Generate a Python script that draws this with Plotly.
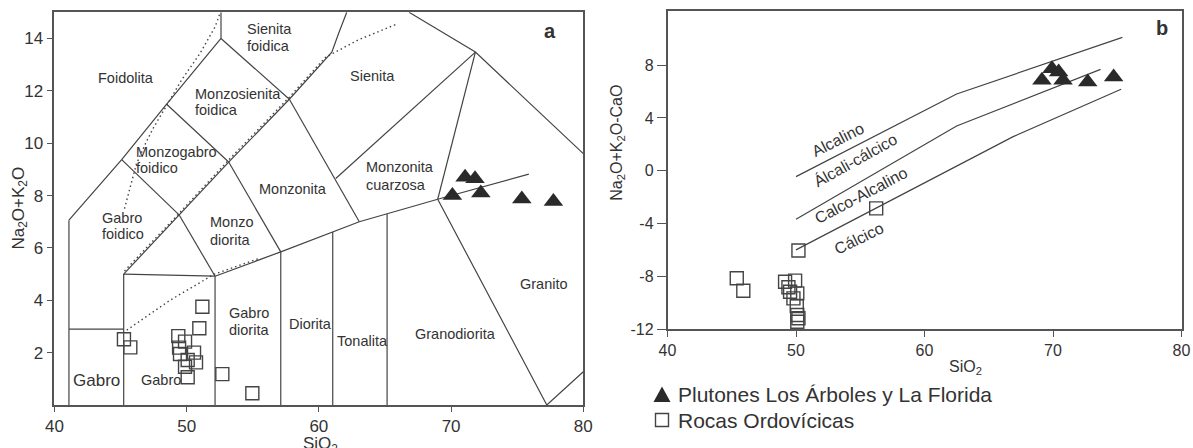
import plotly.graph_objects as go

# ---------------- Panel a: TAS (plutonic) ----------------
plut_a_sio2 = [70.10, 71.06, 71.81, 72.25, 75.35, 77.74]
plut_a_alk = [8.00, 8.70, 8.64, 8.10, 7.87, 7.77]

ord_a_sio2 = [45.26, 45.74, 49.37, 49.88, 49.43, 49.50, 50.56, 50.08, 50.71, 49.88, 50.08, 50.96, 51.19, 52.70, 54.97]
ord_a_alk = [2.51, 2.20, 2.63, 2.42, 2.19, 1.95, 2.00, 1.72, 1.63, 1.46, 1.06, 2.93, 3.75, 1.18, 0.45]

# field boundaries (SiO2, Na2O+K2O)
tas_bounds = [
    ([41.1, 41.1], [0, 7.06]),
    ([41.1, 45.09, 48.49, 52.6], [7.06, 9.37, 11.49, 14.0]),
    ([52.6, 52.6], [14.0, 15.0]),
    ([52.6, 57.77], [14.0, 11.68]),
    ([48.49, 53.18], [11.49, 9.28]),
    ([45.09, 49.45], [9.37, 7.25]),
    ([45.24, 49.45, 53.18, 57.77, 60.98, 61.5, 62.11], [5.0, 7.25, 9.28, 11.68, 13.48, 14.2, 15.0]),
    ([49.45, 52.15], [7.25, 4.92]),
    ([53.18, 57.12], [9.28, 5.85]),
    ([57.77, 63.06], [11.68, 7.0]),
    ([61.28, 71.84], [8.65, 13.48]),
    ([66.82, 71.84, 80.0], [15.0, 13.48, 9.6]),
    ([71.84, 68.99], [13.48, 7.86]),
    ([68.99, 77.24, 80.0], [7.86, 0.0, 1.27]),
    ([52.15, 57.12, 63.06, 68.99, 75.88], [4.92, 5.85, 7.0, 7.86, 8.82]),
    ([45.24, 52.15], [5.0, 4.92]),
    ([41.1, 45.24], [2.9, 2.9]),
    ([45.24, 45.24], [0, 5.0]),
    ([52.15, 52.15], [0, 4.92]),
    ([57.12, 57.12], [0, 5.85]),
    ([61.05, 61.05], [0, 6.61]),
    ([65.16, 65.16], [0, 7.30]),
]
tas_dotted = [
    ([45.3, 45.7, 46.2, 46.9, 47.5, 48.5, 49.6, 51.0, 52.15, 52.55],
     [7.5, 8.3, 9.2, 10.0, 10.6, 11.45, 12.4, 13.42, 14.44, 15.0]),
    ([45.47, 48.74, 52.1, 55.5], [2.86, 4.0, 5.0, 5.6]),
    ([45.3, 49.45, 53.18, 57.77, 60.5, 63.0, 65.9], [5.12, 7.33, 9.36, 11.76, 13.28, 13.95, 14.55]),
]

tas_labels = [
    ("Foidolita", 43.12, 12.48), ("Sienita", 54.42, 14.35), ("foidica", 54.42, 13.70),
    ("Monzosienita", 50.46, 11.87), ("foidica", 50.46, 11.26),
    ("Monzogabro", 46.04, 9.67), ("foidico", 46.04, 9.06),
    ("Gabro", 43.45, 7.13), ("foidico", 43.45, 6.53),
    ("Monzo", 51.62, 6.99), ("diorita", 51.62, 6.30),
    ("Monzonita", 55.30, 8.24), ("Sienita", 62.21, 12.56),
    ("Monzonita", 63.42, 9.10), ("cuarzosa", 63.42, 8.42),
    ("Gabro", 53.03, 3.50), ("diorita", 53.03, 2.86),
    ("Diorita", 57.62, 3.09), ("Tonalita", 61.23, 2.44),
    ("Granodiorita", 67.15, 2.70), ("Granito", 75.05, 4.64),
    ("Gabro", 46.42, 0.95),
]
tas_xticks = [40, 50, 60, 70, 80]
tas_yticks = [2, 4, 6, 8, 10, 12, 14]

# ---------------- Panel b: MALI ----------------
plut_b_sio2 = [69.14, 69.92, 70.44, 70.78, 72.70, 74.72]
plut_b_mali = [6.85, 7.73, 7.48, 6.85, 6.72, 7.10]

ord_b_sio2 = [45.39, 45.90, 49.15, 49.93, 49.41, 49.54, 50.10, 49.80, 50.06, 50.10, 50.19, 50.10, 50.19, 56.24]
ord_b_mali = [-8.15, -9.09, -8.41, -8.33, -8.83, -9.17, -9.29, -9.67, -10.25, -10.93, -11.18, -11.44, -6.05, -2.85]

mali_alk_x, mali_alk_y = [50.0, 62.5, 75.4], [-0.45, 5.81, 10.1]
mali_ac_x, mali_ac_y = [50.0, 62.5, 73.7], [-3.68, 3.39, 7.68]
mali_ca_x, mali_ca_y = [50.0, 66.9, 75.3], [-6.0, 2.58, 6.17]

mali_labels = [
    ("Alcalino", 53.30, 2.33, -27),
    ("Álcali-cálcico", 54.60, 0.81, -29),
    ("Calco-Alcalino", 55.05, -1.89, -28),
    ("Cálcico", 54.91, -5.17, -26),
]
mali_xticks = [40, 50, 60, 70, 80]
mali_yticks = [-12, -8, -4, 0, 4, 8]

legend_names = ["Plutones Los Árboles y La Florida", "Rocas Ordovícicas"]

LINE = "#444444"
TXT = "#333333"
MK = "#2a2a2a"
FONT = "Liberation Sans, Arial, sans-serif"
W, H = 1193, 448


def join(polys):
    xs, ys = [], []
    for px, py in polys:
        xs += list(px) + [None]
        ys += list(py) + [None]
    return xs, ys


def px(x):
    return x / W


def py(y):
    return (H - y) / H


fig = go.Figure()

bx, by = join(tas_bounds)
fig.add_trace(go.Scatter(x=bx, y=by, mode="lines", line=dict(color=LINE, width=1.2),
                         showlegend=False, hoverinfo="skip", xaxis="x", yaxis="y"))
dx, dy = join(tas_dotted)
fig.add_trace(go.Scatter(x=dx, y=dy, mode="lines", line=dict(color=LINE, width=1.4, dash="1.5px,3px"),
                         showlegend=False, hoverinfo="skip", xaxis="x", yaxis="y"))

mx, my = join([(mali_alk_x, mali_alk_y), (mali_ac_x, mali_ac_y), (mali_ca_x, mali_ca_y)])
fig.add_trace(go.Scatter(x=mx, y=my, mode="lines", line=dict(color=LINE, width=1.2),
                         showlegend=False, hoverinfo="skip", xaxis="x2", yaxis="y2"))

sq = dict(symbol="square-open", size=13, color="#444444", line=dict(width=1.4, color="#444444"))
tri = dict(symbol="triangle-up", size=17, color=MK, line=dict(width=0))

fig.add_trace(go.Scatter(x=ord_a_sio2, y=ord_a_alk, mode="markers", marker=sq, name=legend_names[1],
                         showlegend=False, xaxis="x", yaxis="y"))
fig.add_trace(go.Scatter(x=ord_b_sio2, y=ord_b_mali, mode="markers", marker=sq, name=legend_names[1],
                         showlegend=False, xaxis="x2", yaxis="y2"))
fig.add_trace(go.Scatter(x=plut_a_sio2, y=plut_a_alk, mode="markers", marker=tri,
                         name=legend_names[0], showlegend=False, xaxis="x", yaxis="y"))
fig.add_trace(go.Scatter(x=plut_b_sio2, y=plut_b_mali, mode="markers", marker=tri,
                         name=legend_names[0], showlegend=False, xaxis="x2", yaxis="y2"))

annotations = []
for t, x, y in tas_labels:
    annotations.append(dict(text=t, x=x, y=y, xref="x", yref="y", xanchor="left", yanchor="middle",
                            showarrow=False, font=dict(size=14.5, color=TXT)))
annotations.append(dict(text="Gabro", x=41.23, y=0.95, xref="x", yref="y", xanchor="left", yanchor="middle",
                        showarrow=False, font=dict(size=17, color=TXT)))
annotations.append(dict(text="<b>a</b>", x=77.49, y=14.29, xref="x", yref="y", xanchor="center",
                        yanchor="middle", showarrow=False, font=dict(size=20, color=TXT)))
for t, x, y, a in mali_labels:
    annotations.append(dict(text=t, x=x, y=y, xref="x2", yref="y2", textangle=a, showarrow=False,
                            xanchor="center", yanchor="middle", font=dict(size=16, color=TXT)))
annotations.append(dict(text="<b>b</b>", x=78.49, y=10.79, xref="x2", yref="y2", showarrow=False,
                        xanchor="center", yanchor="middle", font=dict(size=20, color=TXT)))
# axis titles
annotations += [
    dict(text="SiO<sub>2</sub>", x=px(320), y=py(432), xref="paper", yref="paper",
         xanchor="center", yanchor="top", showarrow=False, font=dict(size=17, color=TXT)),
    dict(text="Na<sub>2</sub>O+K<sub>2</sub>O", x=px(19.5), y=py(208), xref="paper",
         yref="paper", xanchor="center", yanchor="middle", textangle=-90, showarrow=False,
         font=dict(size=17, color=TXT)),
    dict(text="SiO<sub>2</sub>", x=px(965), y=py(367), xref="paper", yref="paper",
         xanchor="center", yanchor="middle", showarrow=False, font=dict(size=16, color=TXT)),
    dict(text="Na<sub>2</sub>O+K<sub>2</sub>O-CaO", x=px(616.7), y=py(143), xref="paper",
         yref="paper", xanchor="center", yanchor="middle", textangle=-90, showarrow=False,
         font=dict(size=16, color=TXT)),
]
# legend (drawn in paper space)
annotations += [
    dict(text=legend_names[0], x=px(676), y=py(394.5), xref="paper", yref="paper",
         xanchor="left", yanchor="middle", showarrow=False, font=dict(size=21, color=TXT)),
    dict(text=legend_names[1], x=px(676), y=py(420.5), xref="paper", yref="paper",
         xanchor="left", yanchor="middle", showarrow=False, font=dict(size=21, color=TXT)),
]
shapes = [
    dict(type="path", xref="paper", yref="paper",
         path=f"M {px(653.5)},{py(402)} L {px(670.5)},{py(402)} L {px(662)},{py(386.5)} Z",
         fillcolor=MK, line=dict(width=0)),
    dict(type="rect", xref="paper", yref="paper", x0=px(655.5), x1=px(668.5), y0=py(426.5), y1=py(413.5),
         fillcolor="rgba(0,0,0,0)", line=dict(color="#444444", width=1.4)),
]

ax_common = dict(showgrid=False, zeroline=False, showline=True, linecolor="#555555", linewidth=1.5,
                 mirror=True, ticks="outside", tickcolor="#555555", tickwidth=1.3, automargin=False)

fig.update_layout(
    width=W, height=H, autosize=False,
    margin=dict(l=0, r=0, t=0, b=0),
    paper_bgcolor="white", plot_bgcolor="white",
    font=dict(family=FONT, color=TXT),
    xaxis=dict(domain=[px(54.4), px(583.3)], range=[40, 80], anchor="y",
               tickvals=tas_xticks, ticktext=[str(v) for v in tas_xticks],
               ticklen=5, tickfont=dict(size=17), **ax_common),
    yaxis=dict(domain=[py(405), py(12.3)], range=[0, 15], anchor="x",
               tickvals=tas_yticks, ticktext=[str(v) for v in tas_yticks],
               ticklen=6, tickfont=dict(size=17), **ax_common),
    xaxis2=dict(domain=[px(667.5), px(1181.5)], range=[40, 80], anchor="y2",
                tickvals=mali_xticks, ticktext=[str(v) for v in mali_xticks],
                ticklen=6, tickfont=dict(size=16), **ax_common),
    yaxis2=dict(domain=[py(329.1), py(11)], range=[-12, 12.1], anchor="x2",
                tickvals=mali_yticks, ticktext=[str(v) for v in mali_yticks],
                ticklen=9, tickfont=dict(size=16), **ax_common),
    showlegend=False,
    annotations=annotations,
    shapes=shapes,
)

fig.write_html("out.html")
